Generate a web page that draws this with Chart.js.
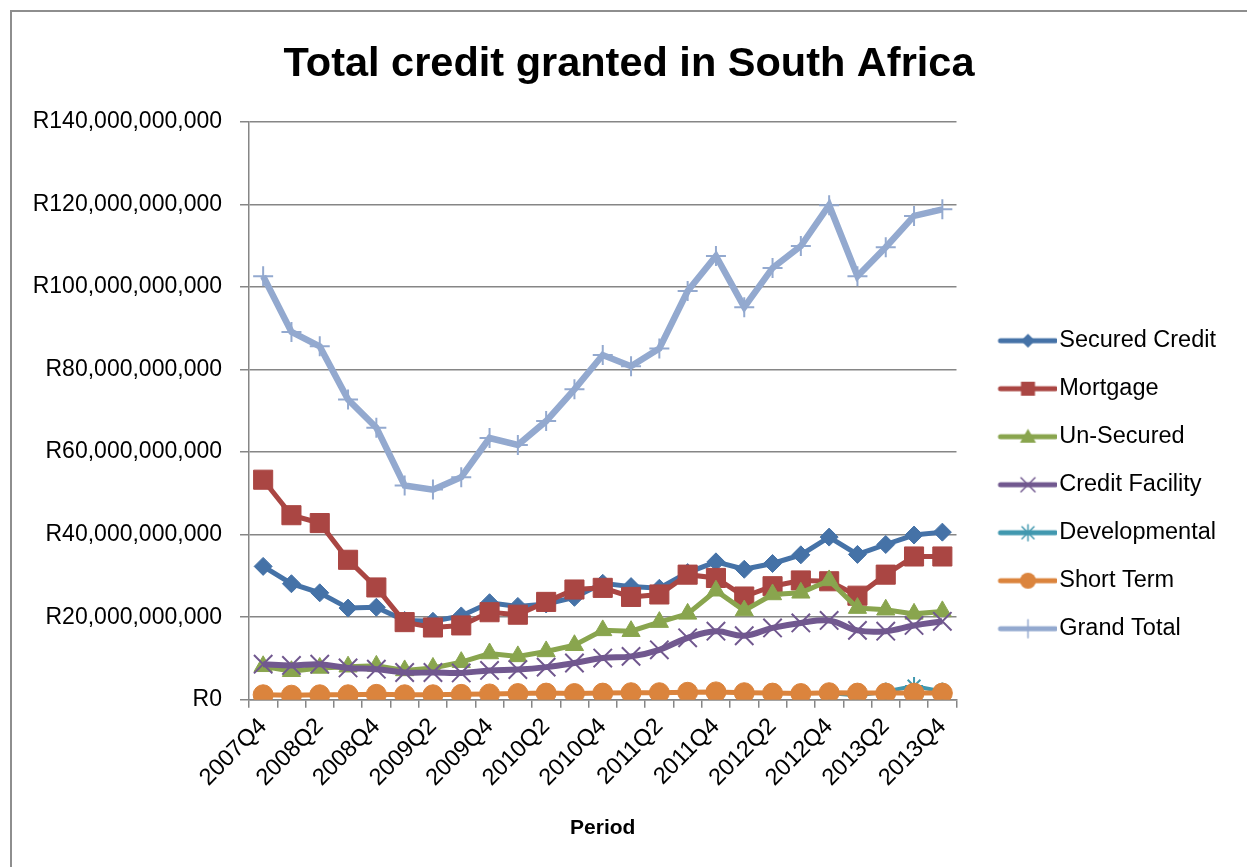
<!DOCTYPE html>
<html>
<head>
<meta charset="utf-8">
<title>Total credit granted in South Africa</title>
<script src="https://cdn.jsdelivr.net/npm/chart.js@4.4.1/dist/chart.umd.min.js"></script>
<style>
  html, body { margin: 0; padding: 0; background: #fff; overflow: hidden; }
  #frame { position: absolute; left: 10px; top: 10px; width: 1300px; height: 900px;
           border: 2px solid #8e8e8e; box-sizing: border-box; }
  #chart { position: absolute; left: 0; top: 0; }
</style>
</head>
<body>
<div id="frame"></div>
<canvas id="chart" width="1247" height="867"></canvas>
<script>
// quarterly periods
const periods = [
  '2007Q4',
  '2008Q1', '2008Q2', '2008Q3', '2008Q4',
  '2009Q1', '2009Q2', '2009Q3', '2009Q4',
  '2010Q1', '2010Q2', '2010Q3', '2010Q4',
  '2011Q1', '2011Q2', '2011Q3', '2011Q4',
  '2012Q1', '2012Q2', '2012Q3', '2012Q4',
  '2013Q1', '2013Q2', '2013Q3', '2013Q4'
];

// credit granted per quarter, in billions of rand
const securedCredit  = [32.3, 28.1, 25.9, 22.2, 22.4, 19.2, 19.0, 20.3, 23.5, 22.6, 23.2, 24.8, 28.2, 27.4, 27.0, 30.8, 33.4, 31.6, 33.0, 35.1, 39.4, 35.2, 37.6, 39.9, 40.6];
const mortgage       = [53.3, 44.7, 42.8, 33.9, 27.2, 18.8, 17.5, 18.0, 21.2, 20.6, 23.7, 26.7, 27.1, 24.9, 25.5, 30.3, 29.5, 25.0, 27.5, 28.9, 28.7, 25.2, 30.3, 34.7, 34.7];
const unSecured      = [8.1, 6.9, 7.7, 8.0, 8.2, 7.1, 7.7, 9.1, 11.2, 10.5, 11.7, 13.2, 16.8, 16.6, 18.8, 20.8, 26.4, 21.6, 25.5, 25.9, 28.9, 22.2, 21.8, 20.8, 21.4];
const creditFacility = [8.6, 8.3, 8.6, 7.7, 7.4, 6.6, 6.6, 6.5, 7.1, 7.3, 7.9, 8.9, 10.1, 10.5, 12.1, 15.0, 16.6, 15.5, 17.4, 18.6, 19.2, 16.8, 16.6, 18.0, 19.0];
const developmental  = [null, null, null, null, null, null, null, null, null, null, null, null, null, null, null, null, null, null, null, null, 1.6, 1.0, 2.0, 3.3, 2.0];
const shortTerm      = [1.2, 1.1, 1.2, 1.2, 1.3, 1.2, 1.2, 1.3, 1.4, 1.5, 1.6, 1.5, 1.6, 1.7, 1.7, 1.8, 1.9, 1.7, 1.6, 1.5, 1.7, 1.6, 1.6, 1.6, 1.6];
const grandTotal     = [102.6, 89.1, 85.6, 72.7, 65.9, 51.9, 50.9, 53.9, 63.4, 61.7, 67.5, 75.2, 83.5, 80.8, 85.1, 99.0, 107.5, 95.1, 104.6, 109.9, 119.8, 102.6, 109.6, 117.2, 118.8];

const yTicks = [0, 20, 40, 60, 80, 100, 120, 140];

const BILLION = 1e9;
const FONT = "'Liberation Sans', Arial, sans-serif";
const GRID = '#868686';

// legend symbol: the box reserves BOX_W, the swatch image is wider and
// overhangs it on both sides so the line can sit close to the text
const BOX_W = 83;
const ICON_W = 103;
const ICON_LINE_START = 46;

function legendIcon(color, style, lineWidth) {
  const c = document.createElement('canvas');
  c.width = ICON_W; c.height = 26;
  const g = c.getContext('2d');
  const cy = 13, x0 = ICON_LINE_START, x1 = ICON_W - 2;
  const cx = (x0 + x1) / 2;
  g.strokeStyle = color; g.fillStyle = color;
  g.lineCap = 'round';
  g.lineWidth = lineWidth;
  g.beginPath(); g.moveTo(x0, cy); g.lineTo(x1, cy); g.stroke();
  g.lineWidth = 1.5;
  g.beginPath();
  if (style === 'rectRot') {
    g.moveTo(cx - 7, cy); g.lineTo(cx, cy - 7); g.lineTo(cx + 7, cy); g.lineTo(cx, cy + 7);
    g.closePath(); g.fill();
  } else if (style === 'rect') {
    g.rect(cx - 7, cy - 7, 14, 14); g.fill();
  } else if (style === 'triangle') {
    g.moveTo(cx, cy - 8); g.lineTo(cx + 8, cy + 6); g.lineTo(cx - 8, cy + 6);
    g.closePath(); g.fill();
  } else if (style === 'crossRot') {
    g.moveTo(cx - 7, cy - 7); g.lineTo(cx + 7, cy + 7);
    g.moveTo(cx + 7, cy - 7); g.lineTo(cx - 7, cy + 7); g.stroke();
  } else if (style === 'star') {
    g.moveTo(cx - 6, cy - 6); g.lineTo(cx + 6, cy + 6);
    g.moveTo(cx + 6, cy - 6); g.lineTo(cx - 6, cy + 6);
    g.moveTo(cx, cy - 8); g.lineTo(cx, cy + 8); g.stroke();
  } else if (style === 'circle') {
    g.arc(cx, cy, 8, 0, Math.PI * 2); g.fill();
  } else if (style === 'cross') {
    g.moveTo(cx, cy - 9); g.lineTo(cx, cy + 9); g.stroke();
  }
  return c;
}

function series(label, values, color, style, radius, lineWidth, extra) {
  return Object.assign({
    label: label,
    data: values.map(v => v === null ? null : v * BILLION),
    borderColor: color,
    backgroundColor: color,
    borderWidth: lineWidth,
    pointStyle: style,
    pointRadius: radius,
    pointHoverRadius: radius,
    pointBackgroundColor: color,
    pointBorderColor: color,
    pointBorderWidth: 1,
    tension: 0,
    spanGaps: false,
    icon: legendIcon(color, style, 5)
  }, extra || {});
}

// later series are painted over earlier ones
const datasets = [
  series('Secured Credit', securedCredit, '#4572A7', 'rectRot', 9, 5, { order: 6 }),
  series('Mortgage', mortgage, '#AA4643', 'rect', 13.5, 5, { order: 5 }),
  series('Un-Secured', unSecured, '#89A54E', 'triangle', 10.5, 5, { order: 4 }),
  series('Credit Facility', creditFacility, '#71588F', 'crossRot', 13, 6,
         { order: 3, tension: 0.4, pointBorderWidth: 2 }),
  series('Developmental', developmental, '#4198AF', 'star', 9, 4,
         { order: 2, pointBorderWidth: 2 }),
  series('Short Term', shortTerm, '#DB843D', 'circle', 10, 5, { order: 1 }),
  series('Grand Total', grandTotal, '#93A9CF', 'cross', 10, 6.5,
         { order: 0, pointBorderWidth: 2 })
];

new Chart(document.getElementById('chart'), {
  type: 'line',
  data: { labels: periods, datasets: datasets },
  options: {
    responsive: false,
    animation: false,
    devicePixelRatio: 1,
    events: [],
    layout: { padding: { left: 32, right: 21, top: 0, bottom: 26 } },
    plugins: {
      tooltip: { enabled: false },
      title: {
        display: true,
        text: 'Total credit granted in South Africa',
        color: '#000',
        font: { family: FONT, size: 41.5, weight: 'bold', lineHeight: 1.2 },
        padding: { top: 40, bottom: 32 }
      },
      legend: {
        position: 'right',
        // empty title only pushes the entries down the side
        title: { display: true, text: ' ', padding: { top: 133, bottom: 0 }, font: { size: 10 } },
        labels: {
          usePointStyle: true,
          pointStyleWidth: BOX_W,
          padding: 8,
          color: '#000',
          font: { family: FONT, size: 23.5, lineHeight: '40px' },
          generateLabels: chart => chart.data.datasets.map((ds, i) => ({
            text: [ds.label],
            pointStyle: ds.icon,
            datasetIndex: i,
            hidden: false,
            lineWidth: 0,
            fontColor: '#000',
            fillStyle: ds.borderColor,
            strokeStyle: ds.borderColor
          }))
        }
      }
    },
    scales: {
      x: {
        offset: true,
        grid: { drawOnChartArea: false, color: GRID, lineWidth: 1.5, tickLength: 8, offset: true },
        border: { color: GRID, width: 1.5 },
        ticks: {
          autoSkip: false,
          maxRotation: 45,
          minRotation: 45,
          color: '#000',
          font: { family: FONT, size: 23.5 },
          padding: 5,
          callback: (v, i) => (i % 2 === 0 ? periods[i] : '')
        },
        title: {
          display: true,
          text: 'Period',
          color: '#000',
          font: { family: FONT, size: 21, weight: 'bold' },
          padding: { top: 19, bottom: 0 }
        }
      },
      y: {
        min: yTicks[0] * BILLION,
        max: yTicks[yTicks.length - 1] * BILLION,
        afterBuildTicks: scale => { scale.ticks = yTicks.map(v => ({ value: v * BILLION })); },
        afterFit: scale => { scale.width = 217; },
        grid: { color: GRID, lineWidth: 1.5, tickLength: 9 },
        border: { color: GRID, width: 1.5 },
        ticks: {
          color: '#000',
          padding: 18,
          font: { family: FONT, size: 23 },
          callback: v => 'R' + Number(v).toLocaleString('en-US')
        }
      }
    }
  }
});
</script>
</body>
</html>
